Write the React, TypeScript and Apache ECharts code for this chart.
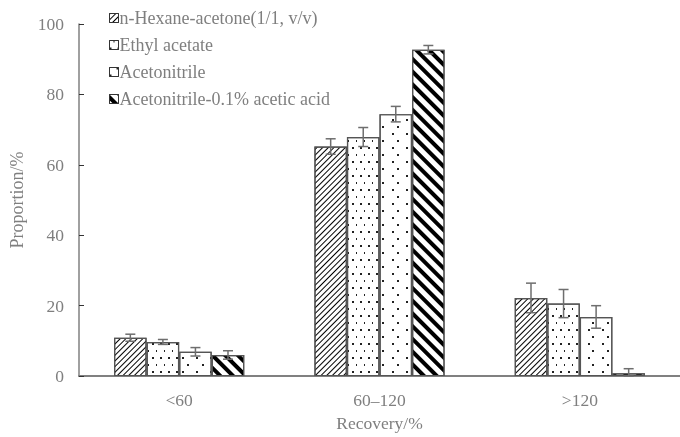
import React, { useEffect, useRef } from "react";
import * as echarts from "echarts";

const categories = ["<60", "60–120", ">120"];
const seriesNames = [
  "n-Hexane-acetone(1/1, v/v)",
  "Ethyl acetate",
  "Acetonitrile",
  "Acetonitrile-0.1% acetic acid",
];
const hexaneAcetone = [10.9, 65.2, 22.2];
const hexaneAcetoneErr = [1.0, 2.2, 4.2];
const ethylAcetate = [9.7, 67.9, 20.6];
const ethylAcetateErr = [0.7, 2.7, 4.0];
const acetonitrile = [6.9, 74.4, 16.8];
const acetonitrileErr = [1.2, 2.2, 3.2];
const acetonitrileAcid = [6.0, 92.7, 0.8];
const acetonitrileAcidErr = [1.2, 1.2, 1.3];
const yTicks = { min: 0, max: 100, interval: 20 };

const FONT = "Liberation Serif";
const GRAY = "#7f7f7f";

export default function App() {
  const ref = useRef<HTMLDivElement>(null);
  useEffect(() => {
    const chart = echarts.init(ref.current!, undefined, { renderer: "svg" });
    const values = [hexaneAcetone, ethylAcetate, acetonitrile, acetonitrileAcid];
    const errs = [hexaneAcetoneErr, ethylAcetateErr, acetonitrileErr, acetonitrileAcidErr];
    const decals: any[] = [
      {
        symbol: "rect",
        symbolSize: 1,
        color: "#000",
        backgroundColor: "#fff",
        dashArrayX: [[1, 0]],
        dashArrayY: [1, 3],
        rotation: -Math.PI / 4,
      },
      {
        symbol: "rect",
        symbolSize: 1,
        color: "#222",
        backgroundColor: "#fff",
        dashArrayX: [[1.3, 5.2], [0, 3.25, 1, 2.25]],
        dashArrayY: [1.3, 4.7],
        rotation: 0,
      },
      {
        symbol: "rect",
        symbolSize: 1,
        color: "#222",
        backgroundColor: "#fff",
        dashArrayX: [[1.5, 11.5], [0, 6.5, 1.1, 5.4]],
        dashArrayY: [1.4, 5],
        rotation: 0,
      },
      {
        symbol: "rect",
        symbolSize: 1,
        color: "#000",
        backgroundColor: "#fff",
        dashArrayX: [[1, 0]],
        dashArrayY: [4, 5],
        rotation: Math.PI / 4,
      },
    ];
    const barSeries = seriesNames.map((name, i) => ({
      name,
      type: "bar",
      data: values[i],
      barGap: "0%",
      barCategoryGap: "35%",
      itemStyle: {
        color: "#fff",
        borderColor: "#555",
        borderWidth: 1.2,
        decal: decals[i],
      },
      emphasis: { disabled: true },
    }));
    const errData: any[] = [];
    values.forEach((vals, si) =>
      vals.forEach((v, ci) => errData.push([ci, v, errs[si][ci], si]))
    );
    const errSeries = {
      type: "custom",
      name: "err",
      data: errData,
      z: 10,
      renderItem: (params: any, api: any) => {
        const ci = api.value(0);
        const v = api.value(1);
        const e = api.value(2);
        const si = api.value(3);
        const band = api.size([1, 0])[0];
        const bw = (band * 0.65) / 4;
        const base = api.coord([ci, v]);
        const x = base[0] + (si - 1.5) * bw;
        const hi = api.coord([ci, v + e])[1];
        const lo = api.coord([ci, Math.max(0, v - e)])[1];
        const cap = 5;
        const style = { stroke: "#6e6e6e", lineWidth: 1.5 };
        return {
          type: "group",
          children: [
            { type: "line", shape: { x1: x, y1: hi, x2: x, y2: lo }, style },
            { type: "line", shape: { x1: x - cap, y1: hi, x2: x + cap, y2: hi }, style },
            { type: "line", shape: { x1: x - cap, y1: lo, x2: x + cap, y2: lo }, style },
          ],
        };
      },
    };
    chart.setOption({
      animation: false,
      aria: { enabled: false, decal: { show: false } },
      legend: {
        data: seriesNames,
        orient: "vertical",
        left: 104,
        top: 4,
        itemWidth: 9,
        itemHeight: 9,
        itemGap: 9,
        icon: "rect",
        textStyle: { fontFamily: FONT, fontSize: 18, color: GRAY, padding: [0, 0, 0, -4] },
        selectedMode: false,
        itemStyle: { borderColor: "#333", borderWidth: 1 },
      },
      grid: { left: 78, top: 24, bottom: 54, width: 611 },
      xAxis: {
        type: "category",
        data: categories,
        name: "Recovery/%",
        nameLocation: "middle",
        nameGap: 33,
        nameTextStyle: { fontFamily: FONT, fontSize: 17.5, color: GRAY },
        axisLine: { lineStyle: { color: "#808080", width: 2 } },
        axisTick: { inside: true, length: 5, lineStyle: { color: "#333", width: 1 } },
        axisLabel: { fontFamily: FONT, fontSize: 17.5, color: GRAY, margin: 15 },
      },
      yAxis: {
        type: "value",
        min: yTicks.min,
        max: yTicks.max,
        interval: yTicks.interval,
        name: "Proportion/%",
        nameLocation: "middle",
        nameGap: 53,
        nameTextStyle: { fontFamily: FONT, fontSize: 18, color: GRAY },
        axisLine: { show: true, lineStyle: { color: "#808080", width: 1.5 } },
        axisTick: { show: true, inside: true, length: 5, lineStyle: { color: "#333" } },
        splitLine: { show: false },
        axisLabel: { fontFamily: FONT, fontSize: 17.5, color: GRAY, margin: 15 },
      },
      series: [...barSeries, errSeries],
    });
    return () => chart.dispose();
  }, []);
  return (
    <div
      ref={ref}
      style={{ position: "fixed", left: 0, top: 0, width: 680, height: 437 }}
    />
  );
}
